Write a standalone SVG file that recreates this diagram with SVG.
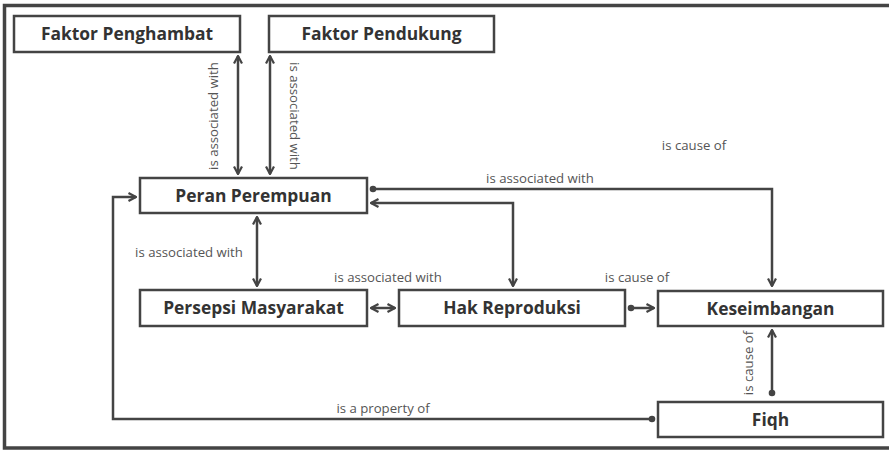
<svg xmlns="http://www.w3.org/2000/svg" width="889" height="450" viewBox="0 0 889 450">
<style>
.frame{fill:none;stroke:#444;stroke-width:3.5}
.box{fill:#fff;stroke:#444;stroke-width:2.5}
.nt{font-family:"Open Sans","Liberation Sans",sans-serif;font-weight:bold;font-size:17.4px;fill:#333;text-anchor:middle}
.c{fill:none;stroke:#444;stroke-width:2.5}
.lb{font-family:"Open Sans","Liberation Sans",sans-serif;font-weight:normal;font-size:13.2px;fill:#555;text-anchor:middle}
</style>
<defs>
<marker id="arr" viewBox="0 0 10 10" refX="9" refY="5" markerWidth="10" markerHeight="10" markerUnits="userSpaceOnUse" orient="auto-start-reverse">
<path d="M1.5,1 L9,5 L1.5,9" fill="none" stroke="#444" stroke-width="2.2"/>
</marker>
<marker id="dot" viewBox="0 0 8 8" refX="4" refY="4" markerWidth="8" markerHeight="8" markerUnits="userSpaceOnUse" orient="auto">
<circle cx="4" cy="4" r="3.3" fill="#444"/>
</marker>
</defs>
<rect width="889" height="450" fill="#fff"/>
<path class="frame" d="M900,5.5 H4.5 V448 H900"/>
<g id="connectors">
<path class="c" d="M238,56 V174" marker-start="url(#arr)" marker-end="url(#arr)"/>
<path class="c" d="M270,56 V174" marker-start="url(#arr)" marker-end="url(#arr)"/>
<path class="c" d="M373,189 H772 V286" marker-start="url(#dot)" marker-end="url(#arr)"/>
<path class="c" d="M513,286 V203 H371" marker-start="url(#arr)" marker-end="url(#arr)"/>
<path class="c" d="M257,217 V286" marker-start="url(#arr)" marker-end="url(#arr)"/>
<path class="c" d="M371,308 H395" marker-start="url(#arr)" marker-end="url(#arr)"/>
<path class="c" d="M631,308 H654" marker-start="url(#dot)" marker-end="url(#arr)"/>
<path class="c" d="M772,393 V330" marker-start="url(#dot)" marker-end="url(#arr)"/>
<path class="c" d="M652,419 H113 V197 H136" marker-start="url(#dot)" marker-end="url(#arr)"/>
<text class="lb" transform="rotate(-90 213 116)" x="213" y="121">is associated with</text>
<text class="lb" transform="rotate(90 295 116)" x="295" y="121">is associated with</text>
<text class="lb" x="540" y="183">is associated with</text>
<text class="lb" x="694" y="150">is cause of</text>
<text class="lb" x="189" y="257">is associated with</text>
<text class="lb" x="388" y="282">is associated with</text>
<text class="lb" x="637" y="282">is cause of</text>
<text class="lb" transform="rotate(-90 748 363)" x="748" y="368">is cause of</text>
<text class="lb" x="383" y="413">is a property of</text>
</g>
<g id="faktor-penghambat"><rect class="box" x="14" y="16" width="226" height="36"/><text class="nt" x="127" y="40">Faktor Penghambat</text></g>
<g id="faktor-pendukung"><rect class="box" x="269" y="16" width="225" height="36"/><text class="nt" x="381.5" y="40">Faktor Pendukung</text></g>
<g id="peran-perempuan"><rect class="box" x="140" y="178" width="227" height="35"/><text class="nt" x="253.5" y="201.5">Peran Perempuan</text></g>
<g id="persepsi-masyarakat"><rect class="box" x="140" y="290" width="227" height="36"/><text class="nt" x="253.5" y="314">Persepsi Masyarakat</text></g>
<g id="hak-reproduksi"><rect class="box" x="399" y="290" width="226" height="36"/><text class="nt" x="512" y="314">Hak Reproduksi</text></g>
<g id="keseimbangan"><rect class="box" x="658" y="291" width="225" height="35"/><text class="nt" x="770.5" y="314.5">Keseimbangan</text></g>
<g id="fiqh"><rect class="box" x="658" y="402" width="225" height="35"/><text class="nt" x="770.5" y="425.5">Fiqh</text></g>
</svg>
